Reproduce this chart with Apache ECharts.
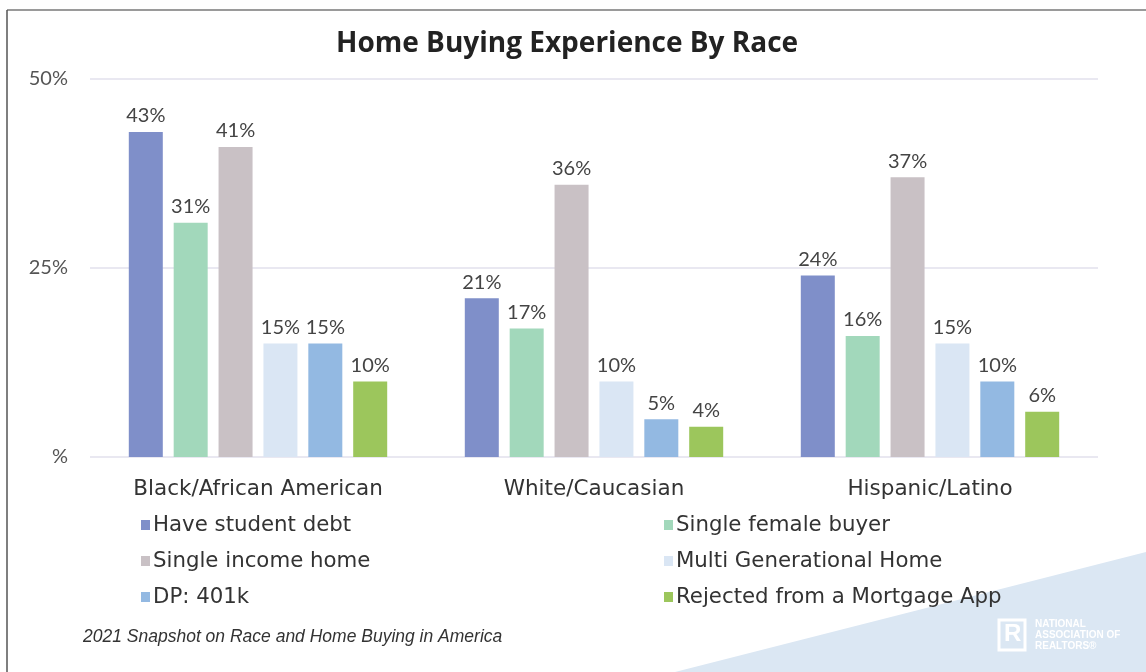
<!DOCTYPE html>
<html>
<head>
<meta charset="utf-8">
<script src="https://cdn.jsdelivr.net/npm/echarts@6/dist/echarts.min.js"></script>
<style>
html,body{margin:0;padding:0;background:#fff;}
#chart{width:1146px;height:672px;}
</style>
</head>
<body>
<div id="chart"></div>
<script>
const categories = ['Black/African American', 'White/Caucasian', 'Hispanic/Latino'];
const seriesNames = ['Have student debt', 'Single female buyer', 'Single income home', 'Multi Generational Home', 'DP: 401k', 'Rejected from a Mortgage App'];
const haveStudentDebt = [43, 21, 24];
const singleFemaleBuyer = [31, 17, 16];
const singleIncomeHome = [41, 36, 37];
const multiGenerationalHome = [15, 10, 15];
const dp401k = [15, 5, 10];
const rejectedMortgage = [10, 4, 6];
const yTickLabels = { 0: '%', 25: '25%', 50: '50%' };

const values = [haveStudentDebt, singleFemaleBuyer, singleIncomeHome, multiGenerationalHome, dp401k, rejectedMortgage];
const colors = ['#7f8fc9', '#a2d8bb', '#c9c1c5', '#dae6f4', '#93b9e2', '#9cc65c'];
const wide = '"DejaVu Sans", "Open Sans", sans-serif';
const titleFont = '"Open Sans", "Noto Sans", sans-serif';
const font = 'Lato, "Open Sans", sans-serif';

const chart = echarts.init(document.getElementById('chart'));
chart.setOption({
  animation: false,
  backgroundColor: '#fff',
  title: {
    text: 'Home Buying Experience By Race',
    left: 331, top: 25,
    textStyle: { fontFamily: titleFont, fontSize: 28, fontWeight: 'bold', color: '#222' }
  },
  grid: { left: 90, right: 48, top: 79, bottom: 215 },
  legend: [
    {
      data: [seriesNames[0], seriesNames[2], seriesNames[4]],
      orient: 'vertical', left: 136, top: 508,
      icon: 'rect', itemWidth: 9, itemHeight: 10, itemGap: 12,
      textStyle: { fontFamily: wide, fontSize: 21.3, color: '#333', lineHeight: 24, padding: [0, 0, 0, -2] }
    },
    {
      data: [seriesNames[1], seriesNames[3], seriesNames[5]],
      orient: 'vertical', left: 659, top: 508,
      icon: 'rect', itemWidth: 9, itemHeight: 10, itemGap: 12,
      textStyle: { fontFamily: wide, fontSize: 21.3, color: '#333', lineHeight: 24, padding: [0, 0, 0, -2] }
    }
  ],
  xAxis: {
    type: 'category', data: categories,
    axisLine: { show: false }, axisTick: { show: false },
    axisLabel: { fontFamily: wide, fontSize: 21.5, color: '#333', margin: 21 }
  },
  yAxis: {
    type: 'value', min: 0, max: 50, interval: 25,
    axisLabel: { fontFamily: font, fontSize: 20, color: '#555', margin: 22,
      formatter: v => yTickLabels[v] },
    splitLine: { lineStyle: { color: '#e2e1ec', width: 1.5 } }
  },
  series: values.map((d, i) => ({
    name: seriesNames[i], type: 'bar', data: d,
    barWidth: 34, barGap: '32%',
    itemStyle: { color: colors[i] },
    label: { show: true, position: 'top', distance: 6, formatter: '{c}%',
      fontFamily: font, fontSize: 20, color: '#444' }
  })),
  graphic: [
    { type: 'polygon', silent: true, z: -1, shape: { points: [[675, 672], [1146, 552], [1146, 672]] }, style: { fill: '#dbe7f3' } },
    { type: 'line', shape: { x1: 7, y1: 10, x2: 1146, y2: 10 }, style: { stroke: '#9a9a9a', lineWidth: 2 } },
    { type: 'line', shape: { x1: 7, y1: 10, x2: 7, y2: 672 }, style: { stroke: '#555', lineWidth: 1.5 } },
    { type: 'text', left: 83, top: 628, style: { text: '2021 Snapshot on Race and Home Buying in America', font: 'italic 17.5px "Liberation Sans", Arial, sans-serif', fill: '#333' } },
    { type: 'rect', shape: { x: 999, y: 620, width: 26, height: 30 }, style: { fill: 'none', stroke: '#fff', lineWidth: 3 } },
    { type: 'text', left: 1004, top: 622, style: { text: 'R', font: 'bold 24px "Liberation Sans", Arial, sans-serif', fill: '#fff' } },
    { type: 'text', left: 1035, top: 619, style: { text: 'NATIONAL\nASSOCIATION OF\nREALTORS®', font: 'bold 10px "Liberation Sans", Arial, sans-serif', lineHeight: 11, fill: '#fff' } }
  ]
});
</script>
</body>
</html>
